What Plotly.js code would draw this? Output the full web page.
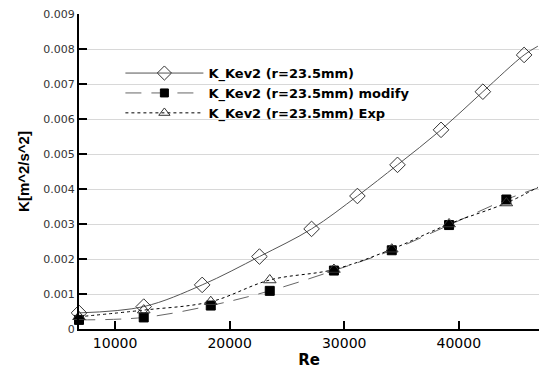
<!DOCTYPE html>
<html><head><meta charset="utf-8">
<script src="https://cdn.plot.ly/plotly-3.0.1.min.js"></script>
<style>html,body{margin:0;padding:0;background:#fff;}#c{width:539px;height:369px;}</style>
</head><body><div id="c"></div>
<script>
// Series 1: K_Kev2 (r=23.5mm)
const re1 = [6850, 12500, 17600, 22600, 27150, 31150, 34650, 38450, 42100, 45700, 46900];
const k1  = [0.00046, 0.00064, 0.00126, 0.00207, 0.00286, 0.0038, 0.00469, 0.00569, 0.00678, 0.00783, 0.00808];
// Series 2: modify
const re2 = [6850, 12500, 18350, 23500, 29100, 34150, 39150, 44150, 46900];
const k2  = [0.00026, 0.00033, 0.00067, 0.00109, 0.00167, 0.00225, 0.00297, 0.0037, 0.00403];
// Series 3: Exp
const re3 = [6850, 12500, 18350, 23500, 29100, 34150, 39150, 44150, 46900];
const k3  = [0.00035, 0.00054, 0.00078, 0.0014, 0.0017, 0.00228, 0.003, 0.0036, 0.00405];
const names = ["K_Kev2 (r=23.5mm)", "K_Kev2 (r=23.5mm) modify", "K_Kev2 (r=23.5mm) Exp"];
const xTicks = [10000, 20000, 30000, 40000];
const yTicks = [0, 0.001, 0.002, 0.003, 0.004, 0.005, 0.006, 0.007, 0.008, 0.009];

function sizes(n, s){ const a = Array(n).fill(s); a[n-1] = 0; return a; }

const traces = [
  {x: re1, y: k1, name: names[0], mode: "lines+markers", cliponaxis: false,
   line: {shape: "spline", color: "#555", width: 1, dash: "solid"},
   marker: {symbol: "diamond-open", size: sizes(re1.length, 12), color: "#333", opacity: 1, line: {width: 1, color: "#333"}}},
  {x: re2, y: k2, name: names[1], mode: "lines+markers", cliponaxis: false,
   line: {shape: "spline", color: "#666", width: 1, dash: "16px,10px"},
   marker: {symbol: "square", size: sizes(re2.length, 9), color: "#000", opacity: 1, line: {width: 1, color: "#000"}}},
  {x: re3, y: k3, name: names[2], mode: "lines+markers", cliponaxis: false,
   line: {shape: "spline", color: "#000", width: 1, dash: "dot"},
   marker: {symbol: "triangle-up-open", size: sizes(re3.length, 11), color: "#333", opacity: 1, line: {width: 1, color: "#333"}}}
];

const layout = {
  width: 539, height: 369,
  margin: {l: 79, r: 0, t: 14, b: 40},
  paper_bgcolor: "#fff", plot_bgcolor: "#fff",
  font: {family: "DejaVu Sans, sans-serif", color: "#000"},
  showlegend: true,
  legend: {x: 0.09, y: 0.86, xanchor: "left", yanchor: "top", bgcolor: "rgba(0,0,0,0)",
           font: {size: 13, family: "DejaVu Sans, sans-serif", weight: "bold"}, itemwidth: 78, tracegroupgap: 0},
  xaxis: {range: [6850, 47000], tickvals: xTicks, ticktext: xTicks.map(String), ticks: "inside", ticklen: 8, tickwidth: 2,
          tickcolor: "#000", showline: true, linewidth: 2, linecolor: "#000", showgrid: false, zeroline: false,
          tickfont: {size: 14, family: "DejaVu Sans, sans-serif"},
          title: {text: "<b>Re</b>", font: {size: 15, family: "DejaVu Sans, sans-serif"}, standoff: 6}},
  yaxis: {range: [0, 0.009], tickvals: yTicks, ticktext: yTicks.map(v => v === 0 ? "0" : v.toFixed(3)), ticks: "inside", ticklen: 8, tickwidth: 2,
          tickcolor: "#000", showline: true, linewidth: 2, linecolor: "#000", showgrid: true, gridcolor: "#d8d8d8", gridwidth: 1,
          zeroline: false, tickfont: {size: 11, color: "#333", family: "DejaVu Sans, sans-serif"},
          title: {text: "<b>K[m^2/s^2]</b>", font: {size: 15, family: "Liberation Sans, Arial, sans-serif"}, standoff: 10}}
};
Plotly.newPlot("c", traces, layout, {displayModeBar: false, staticPlot: true});
</script></body></html>
